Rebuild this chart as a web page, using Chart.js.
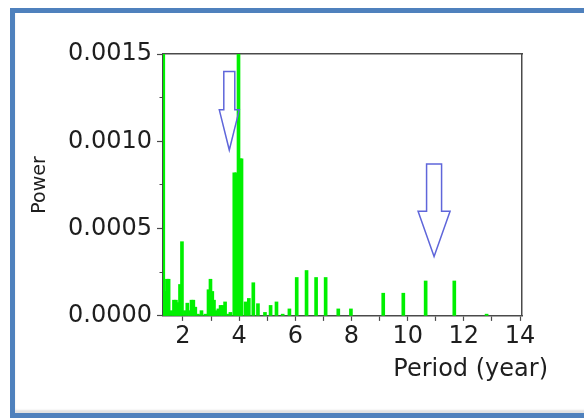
<!DOCTYPE html>
<html>
<head>
<meta charset="utf-8">
<title>Power spectrum</title>
<script src="https://cdn.jsdelivr.net/npm/chart.js@4.4.1/dist/chart.umd.min.js"></script>
<style>
  html, body { margin: 0; padding: 0; background: #fff; overflow: hidden; }
  #wrap { position: relative; width: 584px; height: 418px; overflow: hidden; }
  #frame {
    position: absolute; left: 10px; top: 8px; width: 700px; height: 400px;
    border: 5px solid #4f81bd;
    box-shadow: inset 0 -3px 2px #e2e2e2;
  }
  #chart-box { position: absolute; left: 0; top: 0; width: 584px; height: 418px; }
</style>
</head>
<body>
<div id="wrap">
  <div id="frame"></div>
  <div id="chart-box"><canvas id="spectrum"></canvas></div>
</div>
<script>
// periods (year) and spectral power
const periods = [
  1.30, 1.36, 1.43, 1.49, 1.59, 1.68, 1.75, 1.82, 1.895, 1.965,
  2.07, 2.155, 2.23, 2.305, 2.37, 2.44, 2.535, 2.66, 2.80, 2.91,
  2.98, 3.045, 3.105, 3.18, 3.26, 3.34, 3.415, 3.50, 3.59, 3.69,
  3.828, 3.899, 3.978, 4.042, 4.085, 4.23, 4.345, 4.505, 4.67, 4.92,
  5.12, 5.33, 5.55, 5.79, 6.05, 6.40, 6.74, 7.08, 7.53, 7.98,
  9.13, 9.845, 10.64, 11.66, 12.81
];
const power = [
  0.0015, 0.00014, 0.00021, 0.00021, 0.00003, 0.00009, 0.00009, 0.000076, 0.00018, 0.000425,
  0.00003, 0.000073, 0.00003, 0.00009, 0.00009, 0.00005, 0.00001, 0.00003, 0.00001, 0.00015,
  0.00021, 0.00014, 0.00009, 0.00003, 0.00004, 0.00006, 0.00006, 0.00008, 0.00001, 0.00002,
  0.00082, 0.00082, 0.0015, 0.0009, 0.0009, 0.00008, 0.0001, 0.00019, 0.00007, 0.00002,
  0.00006, 0.00008, 0.00001, 0.00004, 0.00022, 0.00026, 0.00022, 0.00022, 0.00004, 0.00004,
  0.00013, 0.00013, 0.0002, 0.0002, 0.00001
];
const xRange = [1.29, 14.07];
const yRange = [0, 0.0015];
const yStep = 0.00025;

// the two hollow arrows pointing at the peaks (period, power at top / head / tip)
const arrowPeriods = [3.65, 10.94];
const arrowTop = [0.0014, 0.00087];
const arrowHead = [0.00118, 0.0006];
const arrowTip = [0.00095, 0.00034];
const arrowShaftHalf = [5.5, 7.5];
const arrowHeadHalf = [10, 16];

const axisColor = '#4a4a4a';
const textColor = '#1e1e1e';
Chart.defaults.font.family = "'DejaVu Sans', sans-serif";

const isMajorY = v => Math.round(v / yStep) % 2 === 0;

const arrowPlugin = {
  id: 'arrows',
  afterDatasetsDraw(chart) {
    const { ctx } = chart;
    const x = chart.scales.x;
    const y = chart.scales.y;
    ctx.save();
    ctx.strokeStyle = '#5f66da';
    ctx.lineWidth = 1.5;
    arrowPeriods.forEach((p, i) => {
      const cx = x.getPixelForValue(p);
      const yt = y.getPixelForValue(arrowTop[i]);
      const yh = y.getPixelForValue(arrowHead[i]);
      const yp = y.getPixelForValue(arrowTip[i]);
      const s = arrowShaftHalf[i];
      const h = arrowHeadHalf[i];
      ctx.beginPath();
      ctx.moveTo(cx - s, yt);
      ctx.lineTo(cx + s, yt);
      ctx.lineTo(cx + s, yh);
      ctx.lineTo(cx + h, yh);
      ctx.lineTo(cx, yp);
      ctx.lineTo(cx - h, yh);
      ctx.lineTo(cx - s, yh);
      ctx.closePath();
      ctx.stroke();
    });
    ctx.restore();
  }
};

new Chart(document.getElementById('spectrum'), {
  type: 'bar',
  data: {
    datasets: [{
      data: periods.map((p, i) => ({ x: p, y: power[i] })),
      backgroundColor: '#00f000',
      borderWidth: 0,
      barThickness: 3,
      xAxisID: 'x',
      yAxisID: 'y'
    }]
  },
  options: {
    responsive: true,
    maintainAspectRatio: false,
    animation: false,
    layout: { padding: { left: 20, right: 36, top: 54, bottom: 34 } },
    plugins: {
      legend: { display: false },
      tooltip: { enabled: false },
      title: {
        display: true,
        text: 'Period (year)',
        position: 'bottom',
        align: 'end',
        color: textColor,
        font: { size: 24, weight: 'normal' },
        padding: { top: 1.3, bottom: 0 }
      }
    },
    scales: {
      x: {
        type: 'linear',
        min: xRange[0],
        max: xRange[1],
        offset: false,
        grid: { drawOnChartArea: false, drawTicks: true, tickLength: 5, tickColor: axisColor, tickWidth: 1.2, offset: false },
        border: { color: axisColor, width: 1.5 },
        ticks: {
          stepSize: 1,
          includeBounds: false,
          autoSkip: false,
          maxRotation: 0,
          padding: 1,
          color: textColor,
          font: { size: 24 },
          callback: v => (v % 2 === 0 ? String(v) : '')
        },
        afterFit: s => { s.height = 38; }
      },
      x2: {
        type: 'linear',
        position: 'top',
        grid: { display: false },
        ticks: { display: false },
        border: { color: axisColor, width: 1.5 },
        afterFit: s => { s.height = 0; }
      },
      y: {
        type: 'linear',
        min: yRange[0],
        max: yRange[1],
        grid: {
          drawOnChartArea: false,
          drawTicks: true,
          tickLength: 6,
          tickColor: axisColor,
          tickWidth: 1.2,
          // minor ticks: only the part next to the axis is drawn
          tickBorderDash: c => (c.tick && !isMajorY(c.tick.value) ? [0, 2.5, 4, 100] : [])
        },
        border: { color: axisColor, width: 1.5 },
        ticks: {
          stepSize: yStep,
          padding: 5,
          color: textColor,
          font: { size: 24 },
          callback: v => (isMajorY(v) ? v.toFixed(4) : '')
        },
        title: {
          display: true,
          text: 'Power',
          color: textColor,
          font: { size: 19 },
          padding: { top: 9, bottom: 0 }
        },
        afterFit: s => { s.width = 143; }
      },
      y2: {
        type: 'linear',
        position: 'right',
        grid: { display: false },
        ticks: { display: false },
        border: { color: axisColor, width: 1.5 },
        afterFit: s => { s.width = 26; }
      }
    }
  },
  plugins: [arrowPlugin]
});
</script>
</body>
</html>
